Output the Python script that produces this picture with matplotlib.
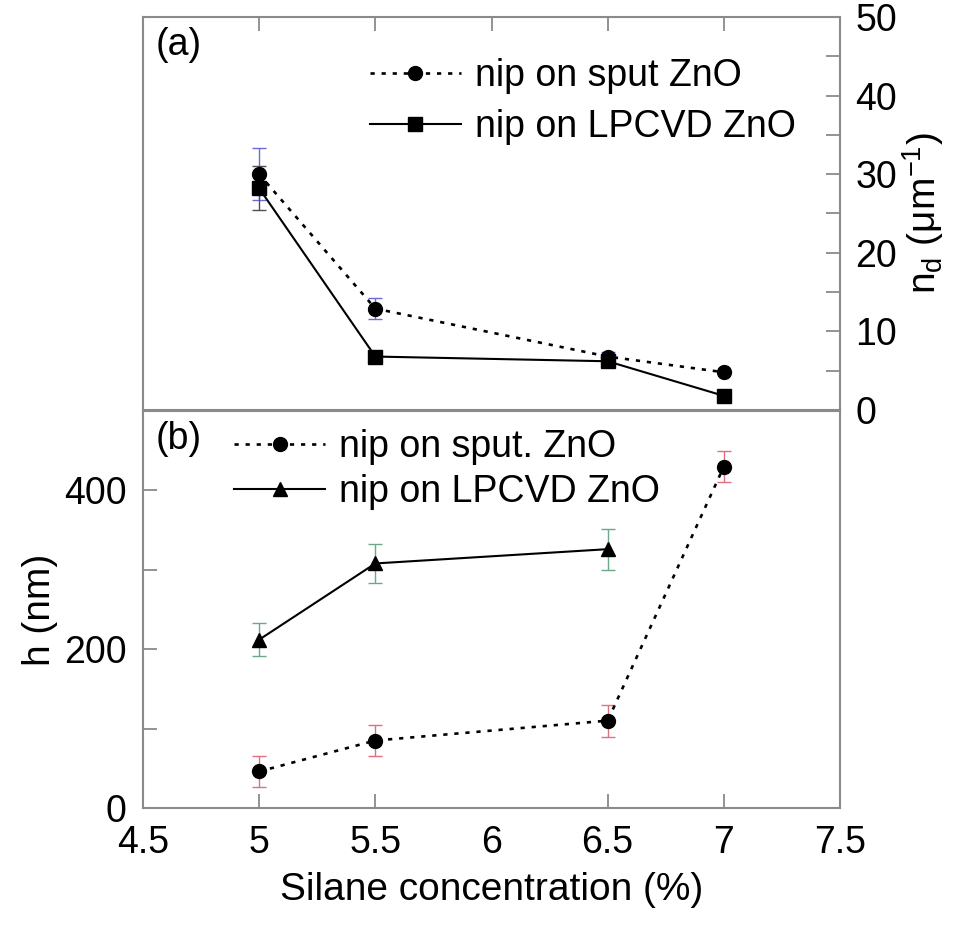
import numpy as np
import matplotlib
matplotlib.use("Agg")
import matplotlib.pyplot as plt
from matplotlib.ticker import MultipleLocator, FuncFormatter

plt.rcParams['font.family'] = ['Liberation Sans', 'DejaVu Sans']

# (a) density n_d (um^-1), right axis
xa_sput = [5, 5.5, 6.5, 7]
nd_sput = [30.0, 12.9, 6.8, 4.8]
nd_sput_err = [3.3, 1.3, 0.6, 0.0]
xa_lp = [5, 5.5, 6.5, 7]
nd_lp = [28.2, 6.8, 6.2, 1.8]
nd_lp_err = [2.8, 0.0, 0.0, 0.0]

# (b) height h (nm)
xb_sput = [5, 5.5, 6.5, 7]
h_sput = [46, 85, 110, 430]
h_sput_err = [20, 20, 20, 19]
xb_lp = [5, 5.5, 6.5]
h_lp = [212, 308, 326]
h_lp_err = [21, 25, 26]

xticks = [4.5, 5, 5.5, 6, 6.5, 7, 7.5]
xticklabels = ['4.5', '5', '5.5', '6', '6.5', '7', '7.5']

spine_col = '#8a8a8a'
dots = (0, (1.6, 2.6))
fs = 27

fig = plt.figure(figsize=(9.74, 9.34), dpi=100)
W, H = 974, 934
x0, x1 = 143, 840
ax1 = fig.add_axes([x0 / W, 1 - 410 / H, (x1 - x0) / W, (410 - 17) / H])
ax2 = fig.add_axes([x0 / W, 1 - 808 / H, (x1 - x0) / W, (808 - 411) / H])

for ax in (ax1, ax2):
    for s in ax.spines.values():
        s.set_color(spine_col)
        s.set_linewidth(1.5)
    ax.set_xlim(4.5, 7.5)

# ---- top panel
ax1.errorbar(xa_sput, nd_sput, yerr=nd_sput_err, fmt='none', ecolor='#6a6ad8',
             elinewidth=1.0, capsize=5, capthick=1.0)
ax1.errorbar(xa_lp[:1], nd_lp[:1], yerr=nd_lp_err[:1], fmt='none', ecolor='#505050',
             elinewidth=1.0, capsize=5, capthick=1.0)
ax1.plot(xa_sput, nd_sput, color='black', linestyle=dots, linewidth=1.9,
         marker='o', markersize=10, label='nip on sput ZnO')
ax1.plot(xa_lp, nd_lp, color='black', linestyle='-', linewidth=1.5,
         marker='s', markersize=9.5, label='nip on LPCVD ZnO')
ax1.set_ylim(0, 50)
ax1.yaxis.tick_right()
ax1.yaxis.set_label_position('right')
ax1.yaxis.set_major_locator(MultipleLocator(5))
ax1.yaxis.set_major_formatter(FuncFormatter(lambda v, p: '%d' % v if v % 10 == 0 else ''))
ax1.set_xticks([5, 5.5, 6, 6.5, 7])
ax1.tick_params(axis='x', which='both', top=True, bottom=False, labelbottom=False,
                direction='in', length=10, width=1.3, color=spine_col)
ax1.tick_params(axis='y', which='both', right=True, left=False, direction='in',
                length=10, width=1.3, color=spine_col, labelsize=fs, pad=11)
ax1.set_ylabel('n$_\\mathregular{d}$ (μm$^{\\mathregular{-1}}$)', fontsize=28, labelpad=2)
ax1.text(0.018, 0.975, '(a)', transform=ax1.transAxes, fontsize=fs, va='top', ha='left')
ax1.legend(loc='upper left', bbox_to_anchor=(0.325, 0.895), frameon=False,
           fontsize=fs, handlelength=2.45, handletextpad=0.35, labelspacing=0.4,
           borderaxespad=0, borderpad=0)

# ---- bottom panel
ax2.errorbar(xb_sput, h_sput, yerr=h_sput_err, fmt='none', ecolor='#e07080',
             elinewidth=1.0, capsize=5, capthick=1.0)
ax2.errorbar(xb_lp, h_lp, yerr=h_lp_err, fmt='none', ecolor='#6aa88a',
             elinewidth=1.0, capsize=5, capthick=1.0)
ax2.plot(xb_sput, h_sput, color='black', linestyle=dots, linewidth=1.9,
         marker='o', markersize=10, label='nip on sput. ZnO')
ax2.plot(xb_lp, h_lp, color='black', linestyle='-', linewidth=1.5,
         marker='^', markersize=9.5, label='nip on LPCVD ZnO')
ax2.set_ylim(0, 500)
ax2.yaxis.set_major_locator(MultipleLocator(100))
ax2.yaxis.set_major_formatter(FuncFormatter(lambda v, p: '%d' % v if v % 200 == 0 else ''))
ax2.set_xticks(xticks)
ax2.set_xticklabels(xticklabels)
ax2.tick_params(axis='x', which='both', direction='in', length=10, width=1.3,
                color=spine_col, labelsize=fs, pad=12)
ax2.tick_params(axis='y', which='both', direction='in', length=10, width=1.3,
                color=spine_col, labelsize=fs, pad=12)
for t, v in zip(ax2.xaxis.get_major_ticks(), xticks):
    if v in (4.5, 6, 7.5):
        t.tick1line.set_visible(False)
ax2.set_ylabel('h (nm)', fontsize=28, labelpad=4)
ax2.set_xlabel('Silane concentration (%)', fontsize=28, labelpad=8)
ax2.text(0.018, 0.975, '(b)', transform=ax2.transAxes, fontsize=fs, va='top', ha='left')
ax2.legend(loc='upper left', bbox_to_anchor=(0.13, 0.955), frameon=False,
           fontsize=fs, handlelength=2.45, handletextpad=0.35, labelspacing=0.25,
           borderaxespad=0, borderpad=0)

fig.savefig('out.png', dpi=100)
